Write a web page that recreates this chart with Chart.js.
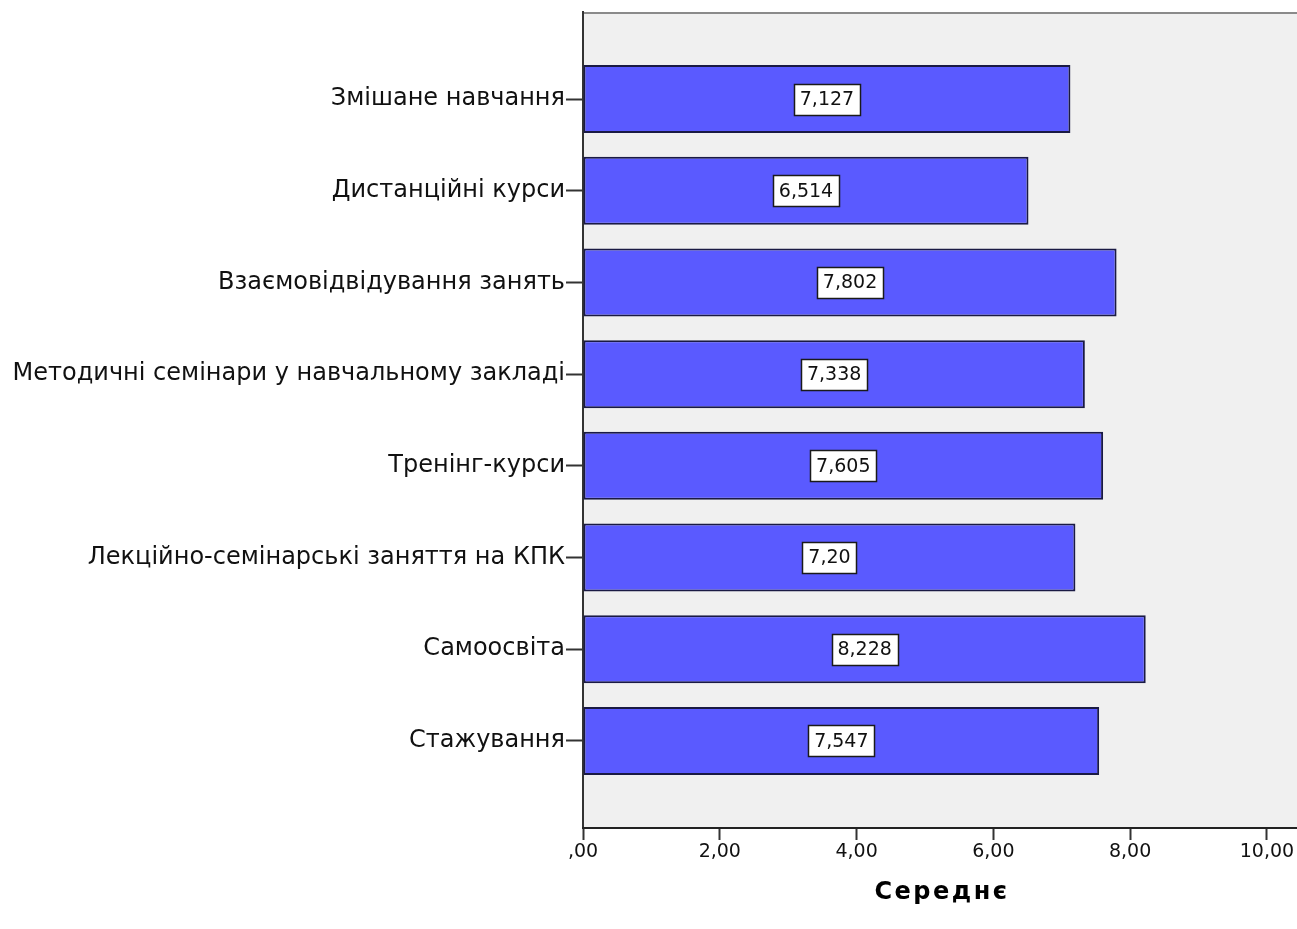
<!DOCTYPE html>
<html>
<head>
<meta charset="utf-8">
<script src="https://cdn.jsdelivr.net/npm/chart.js@4.4.1/dist/chart.umd.min.js"></script>
<style>
  body { margin: 0; background: #fff; }
  #chart { display: block; }
</style>
</head>
<body>
<canvas id="chart" width="1297" height="929"></canvas>
<script>
// categories, top to bottom
const categories = [
  'Змішане навчання',
  'Дистанційні курси',
  'Взаємовідвідування занять',
  'Методичні семінари у навчальному закладі',
  'Тренінг-курси',
  'Лекційно-семінарські заняття на КПК',
  'Самоосвіта',
  'Стажування'
]
const means = [7.127, 6.514, 7.802, 7.338, 7.605, 7.20, 8.228, 7.547]
const meanLabels = ['7,127', '6,514', '7,802', '7,338', '7,605', '7,20', '8,228', '7,547']
const xTickValues = [0, 2, 4, 6, 8, 10]
const xTickLabels = [',00', '2,00', '4,00', '6,00', '8,00', '10,00']
const axisTitle = 'Середнє'

const FONT = "'DejaVu Sans', sans-serif"

// grey plot background + top frame line
const plotBackground = {
  id: 'plotBackground',
  beforeDraw(chart) {
    const { ctx, chartArea: a } = chart
    ctx.save()
    ctx.fillStyle = '#f0f0f0'
    ctx.fillRect(a.left, a.top, a.right - a.left, a.bottom - a.top)
    ctx.strokeStyle = '#8a8a8a'
    ctx.lineWidth = 2
    ctx.beginPath()
    ctx.moveTo(a.left, a.top + 1)
    ctx.lineTo(a.right, a.top + 1)
    ctx.stroke()
    ctx.restore()
  }
}

// boxed value labels in the middle of each bar
const valueBoxes = {
  id: 'valueBoxes',
  afterDatasetsDraw(chart) {
    const { ctx } = chart
    const meta = chart.getDatasetMeta(0)
    ctx.save()
    ctx.font = '19px ' + FONT
    ctx.textAlign = 'center'
    ctx.textBaseline = 'middle'
    meta.data.forEach((bar, i) => {
      const text = meanLabels[i]
      const cx = (bar.x + bar.base) / 2
      const cy = bar.y
      const w = Math.round(ctx.measureText(text).width + 12)
      const h = 31
      const x0 = Math.round(cx - w / 2) + 0.5
      const y0 = Math.round(cy - h / 2) + 0.5
      ctx.fillStyle = '#ffffff'
      ctx.fillRect(x0, y0, w, h)
      ctx.strokeStyle = '#1a1a1a'
      ctx.lineWidth = 1.5
      ctx.strokeRect(x0, y0, w, h)
      ctx.fillStyle = '#111'
      ctx.fillText(text, cx, cy + 1)
    })
    ctx.restore()
  }
}

// bold axis title under the x axis
const axisTitleDraw = {
  id: 'axisTitleDraw',
  afterDraw(chart) {
    const { ctx } = chart
    const sx = chart.scales.x
    ctx.save()
    ctx.font = 'bold 24px ' + FONT
    ctx.letterSpacing = '2.5px'
    ctx.fillStyle = '#000'
    ctx.textAlign = 'center'
    ctx.textBaseline = 'middle'
    ctx.fillText(axisTitle, (sx.left + sx.right) / 2 + 2, sx.bottom - 36)
    ctx.restore()
  }
}

const ctx = document.getElementById('chart')
new Chart(ctx, {
  type: 'bar',
  data: {
    datasets: [{
      data: means.map((v, i) => ({ x: v, y: i })),
      backgroundColor: '#5a5aff',
      borderColor: '#1a1a44',
      borderWidth: 2,
      borderSkipped: false,
      categoryPercentage: 0.742,
      barPercentage: 1
    }]
  },
  options: {
    indexAxis: 'y',
    responsive: false,
    animation: false,
    devicePixelRatio: 1,
    layout: { padding: { top: 12, left: 0, right: 0, bottom: 0 } },
    plugins: {
      legend: { display: false },
      tooltip: { enabled: false }
    },
    scales: {
      y: {
        type: 'linear',
        reverse: true,
        offset: false,
        min: -0.95,
        max: 7.95,
        afterBuildTicks: scale => {
          scale.ticks = categories.map((c, i) => ({ value: i }))
        },
        afterFit: scale => {
          scale.width = 583
          scale.paddingTop = 0
          scale.paddingBottom = 0
        },
        ticks: {
          autoSkip: false,
          padding: 1,
          color: '#111',
          font: { family: FONT, size: 24 },
          callback: v => categories[v]
        },
        grid: {
          offset: false,
          drawOnChartArea: false,
          tickLength: 17,
          tickWidth: 2,
          tickColor: '#333'
        },
        border: { display: true, color: '#333', width: 2 }
      },
      x: {
        type: 'linear',
        min: 0,
        max: 10.44,
        afterBuildTicks: scale => {
          scale.ticks = xTickValues.map(v => ({ value: v }))
        },
        afterFit: scale => {
          scale.height = 101
          scale.paddingLeft = 0
          scale.paddingRight = 0
        },
        ticks: {
          autoSkip: false,
          maxRotation: 0,
          padding: 1,
          color: '#111',
          font: { family: FONT, size: 19 },
          callback: v => xTickLabels[xTickValues.indexOf(v)]
        },
        grid: {
          drawOnChartArea: false,
          tickLength: 12,
          tickWidth: 2,
          tickColor: '#333'
        },
        border: { display: true, color: '#222', width: 2 }
      }
    }
  },
  plugins: [plotBackground, valueBoxes, axisTitleDraw]
})
</script>
</body>
</html>
